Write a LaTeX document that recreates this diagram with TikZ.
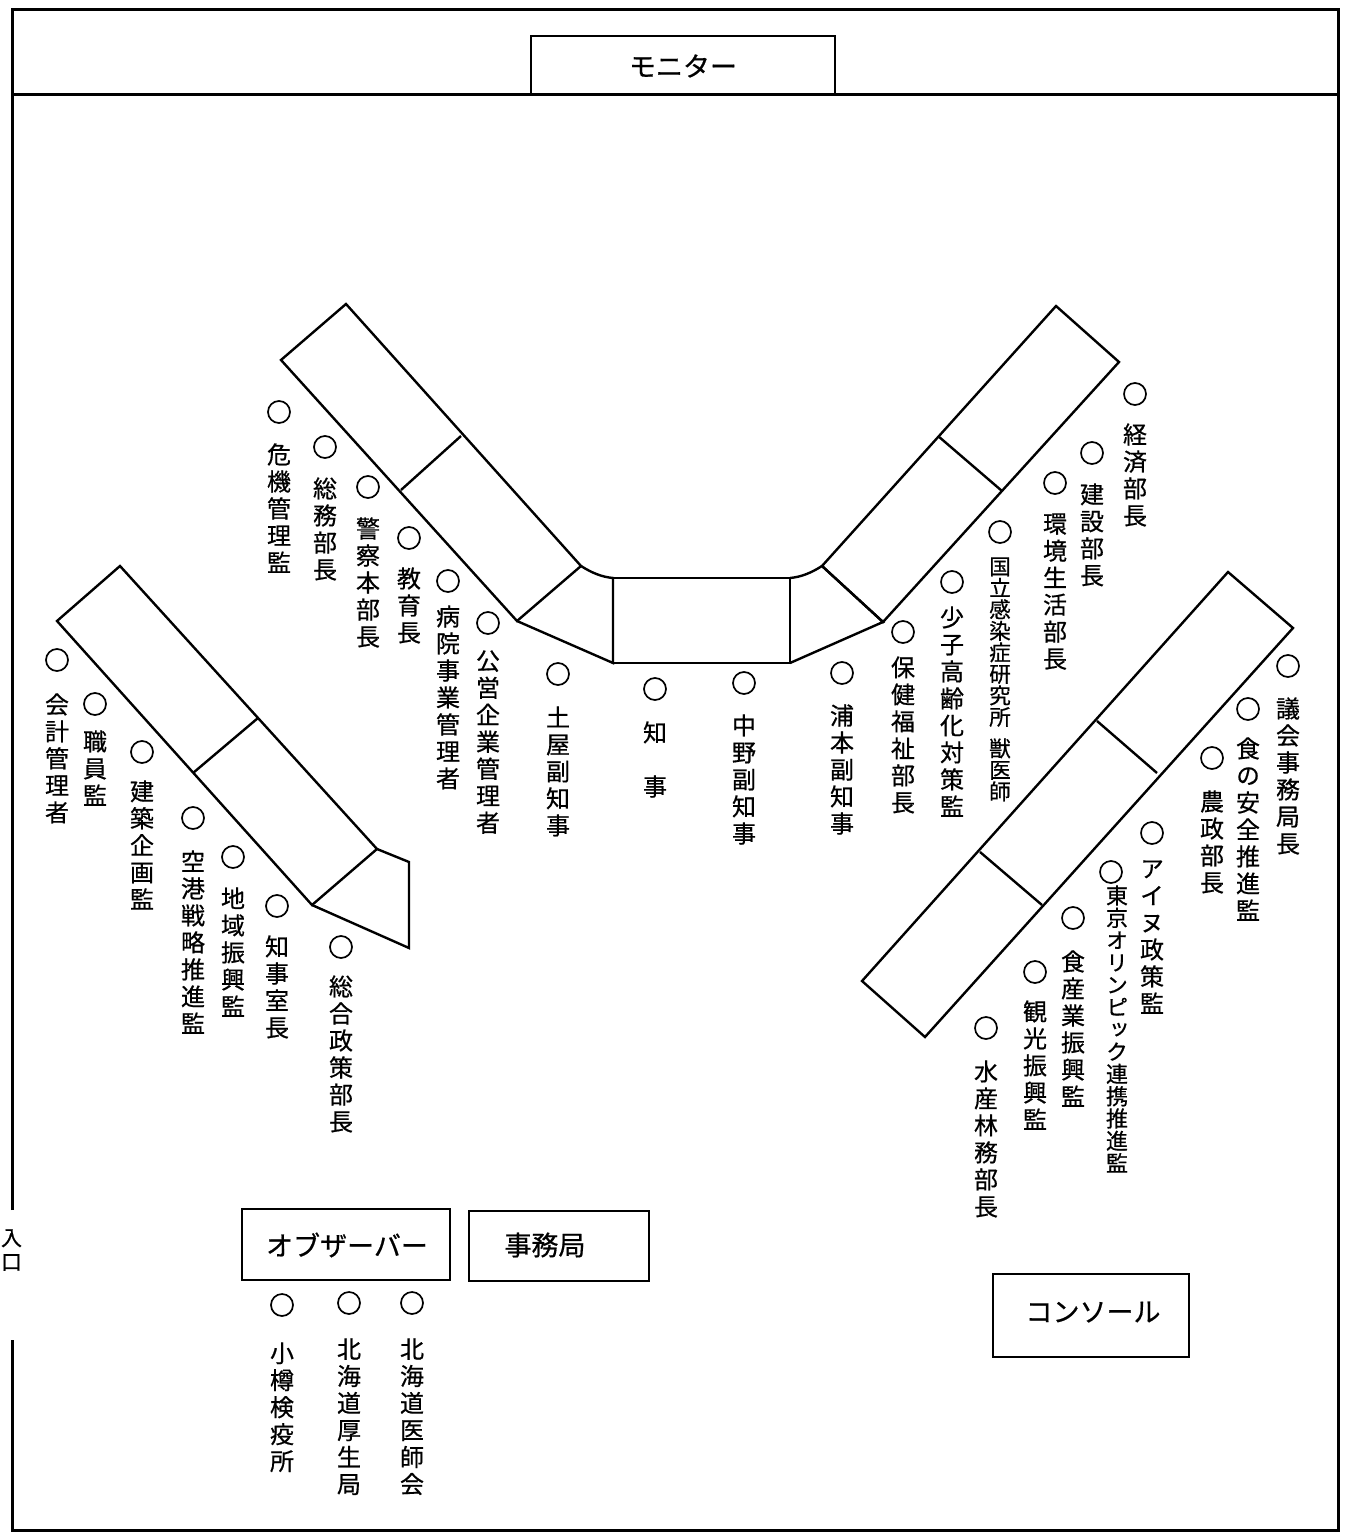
\documentclass[tikz,border=0pt]{standalone}
\usepackage{fontspec}
\newfontfamily\jp[FakeBold=0.6]{Noto Sans CJK JP}
\newfontfamily\jpv[RawFeature={+vert},FakeBold=0.6]{Noto Sans CJK JP}
\newcommand\seatlab[5]{%
  \node[seat] (c#1) at (#2,#3) {};
  \node[vlab] (t#1) at (#2,#4) {#5};}
\begin{document}
\begin{tikzpicture}[x=0.5pt,y=-0.5pt,
  frame/.style={line width=1.5pt},
  tbl/.style={line width=1.2pt, line join=miter},
  seat/.style={circle, draw, line width=0.85pt, minimum size=11pt, inner sep=0pt},
  vlab/.style={font=\jpv\fontsize{12}{13.5}\selectfont, align=center, inner sep=0pt, anchor=north},
  vsmall/.style={font=\jpv\fontsize{10.8}{10.75}\selectfont, align=center, inner sep=0pt, anchor=north},
  vtokyo/.style={font=\jpv\fontsize{11}{11.15}\selectfont, align=center, inner sep=0pt, anchor=north},
  boxn/.style={draw, line width=1pt, inner sep=0pt},
  boxt/.style={font=\jp\fontsize{13.5}{15}\selectfont, inner sep=0pt}
]
\useasboundingbox (0,0) rectangle (1345,1534);
\fill[white] (0,0) rectangle (1345,1534);

% room frame
\draw[frame] (12,95) -- (1338,95);
\draw[frame] (12,1210) -- (12,10) -- (1338,10) -- (1338,1530) -- (12,1530) -- (12,1340);
\node[font=\jp\fontsize{10.5}{12}\selectfont, align=center, inner sep=0pt] (ent) at (11.5,1250) {入\\口};

% monitor
\node[boxn, minimum width=152pt, minimum height=29.5pt] (mon) at (683,65.5) {};
\node[boxt] (mont) at (683,66) {モニター};

% tables
\draw[tbl] (346,304) -- (581,566) -- (517,621) -- (281,360) -- cycle;
\draw[tbl] (461,436) -- (401,490);
\draw[tbl] (581,566) .. controls (592,573) and (602,577) .. (613,578) -- (613,663) -- (517,621);
\draw[tbl] (613,578) rectangle (790,663);
\draw[tbl] (790,578) .. controls (801,577) and (811,573) .. (822,566) -- (883,622) -- (790,663);
\draw[tbl] (1056,306) -- (1119,362) -- (883,622) -- (822,566) -- cycle;
\draw[tbl] (938,436) -- (1002,491);
\draw[tbl] (120,566) -- (377,849) -- (312,905) -- (57,621) -- cycle;
\draw[tbl] (258,718) -- (193,773);
\draw[tbl] (377,849) -- (409,862) -- (409,948) -- (312,905);
\draw[tbl] (1228,572) -- (1293,628) -- (925,1037) -- (862,981) -- cycle;
\draw[tbl] (1097,721) -- (1157,773);
\draw[tbl] (980,852) -- (1042,905);

% left upper group
\seatlab{kiki}{279}{412}{443}{危\\機\\管\\理\\監}
\seatlab{somu}{325}{447}{477}{総\\務\\部\\長}
\seatlab{keisatsu}{368}{487}{517}{警\\察\\本\\部\\長}
\seatlab{kyoiku}{409}{538}{567}{教\\育\\長}
\seatlab{byoin}{448}{581}{605}{病\\院\\事\\業\\管\\理\\者}
\seatlab{koei}{488}{623}{650}{公\\営\\企\\業\\管\\理\\者}

% centre
\seatlab{tsuchiya}{558}{674}{706}{土\\屋\\副\\知\\事}
\seatlab{chiji}{655}{689}{721}{知\\[13.5pt]事}
\seatlab{nakano}{744}{683}{714}{中\\野\\副\\知\\事}
\seatlab{uramoto}{842}{673}{704}{浦\\本\\副\\知\\事}

% right upper group
\seatlab{hoken}{903}{632}{656}{保\\健\\福\\祉\\部\\長}
\seatlab{shoshi}{952}{582}{606}{少\\子\\高\\齢\\化\\対\\策\\監}
\node[seat] (ckokuritsu) at (1000,532) {};
\node[vsmall] (tkokuritsu) at (1000,557) {国\\立\\感\\染\\症\\研\\究\\所\\[5pt]獣\\医\\師};
\seatlab{keizai}{1135}{394}{423}{経\\済\\部\\長}
\seatlab{kensetsu}{1092}{453}{483}{建\\設\\部\\長}
\seatlab{kankyo}{1055}{483}{513}{環\\境\\生\\活\\部\\長}

% right lower group
\seatlab{gikai}{1288}{666}{697}{議\\会\\事\\務\\局\\長}
\seatlab{shoku}{1248}{709}{737}{食\\の\\安\\全\\推\\進\\監}
\seatlab{nosei}{1212}{758}{790}{農\\政\\部\\長}
\seatlab{ainu}{1152}{833}{860}{ア\\イ\\ヌ\\政\\策\\監}
\node[seat] (ctokyo) at (1111,872) {};
\node[vtokyo] (ttokyo) at (1117,885) {東\\京\\オ\\リ\\ン\\ピ\\ッ\\ク\\連\\携\\推\\進\\監};
\seatlab{shokusan}{1073}{918}{950}{食\\産\\業\\振\\興\\監}
\seatlab{kanko}{1035}{972}{1000}{観\\光\\振\\興\\監}
\seatlab{suisan}{986}{1028}{1060}{水\\産\\林\\務\\部\\長}

% left lower group
\seatlab{kaikei}{57}{660}{693}{会\\計\\管\\理\\者}
\seatlab{shokuin}{95}{704}{730}{職\\員\\監}
\seatlab{kenchiku}{142}{752}{780}{建\\築\\企\\画\\監}
\seatlab{kuko}{193}{818}{850}{空\\港\\戦\\略\\推\\進\\監}
\seatlab{chiiki}{233}{857}{887}{地\\域\\振\\興\\監}
\seatlab{chijishitsu}{277}{906}{935}{知\\事\\室\\長}
\seatlab{sogo}{341}{947}{975}{総\\合\\政\\策\\部\\長}

% observers and secretariat
\node[boxn, minimum width=104pt, minimum height=35.5pt] (obs) at (346,1244.5) {};
\node[boxt] (obst) at (347,1245) {オブザーバー};
\node[boxn, minimum width=90pt, minimum height=35pt] (jim) at (559,1246) {};
\node[boxt] (jimt) at (545,1245) {事務局};
\seatlab{otaru}{282}{1305}{1342}{小\\樽\\検\\疫\\所}
\seatlab{kosei}{349}{1303}{1338}{北\\海\\道\\厚\\生\\局}
\seatlab{ishikai}{412}{1303}{1338}{北\\海\\道\\医\\師\\会}

% console
\node[boxn, minimum width=98pt, minimum height=41.5pt] (con) at (1091,1315.5) {};
\node[boxt] (cont) at (1093,1312) {コンソール};
\end{tikzpicture}
\end{document}
